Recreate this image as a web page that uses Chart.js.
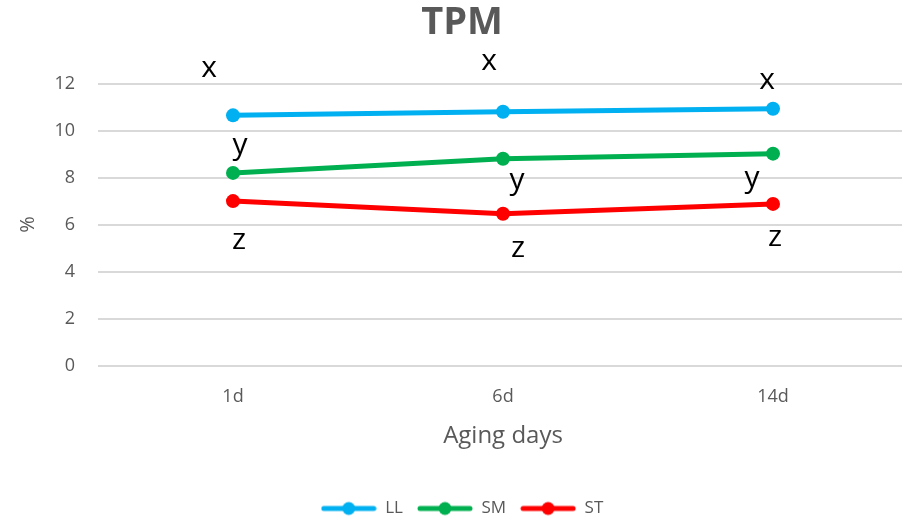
<!DOCTYPE html>
<html>
<head>
<meta charset="utf-8">
<script src="https://cdn.jsdelivr.net/npm/chart.js@4.4.1/dist/chart.umd.min.js"></script>
<style>
  html, body { margin: 0; padding: 0; background: #fff; overflow: hidden; }
  #wrap { width: 908px; height: 523px; }
</style>
</head>
<body>
<div id="wrap"><canvas id="graph"></canvas></div>
<script>
// chart data
const days = ["1d", "6d", "14d"];
const seriesNames = ["LL", "SM", "ST"];
const llValues = [10.65, 10.8, 10.93];
const smValues = [8.2, 8.8, 9.02];
const stValues = [7.0, 6.46, 6.88];
const llLetters = ["x", "x", "x"];
const smLetters = ["y", "y", "y"];
const stLetters = ["z", "z", "z"];

// colours and label placement (pixel nudges, like dragged Excel labels)
const colors = ["#00B0F0", "#00B050", "#FF0000"];
const letterNudges = [
  [[-24, -47], [-14, -50], [-6, -28]],
  [[7, -27], [14, 22], [-21, 25]],
  [[6, 39], [15, 35], [2, 34]]
];

const FONT = "'Open Sans', 'Noto Sans', sans-serif";
const GREY = "#595959";

// little line-with-dot marker for the legend
function legendMarker(color) {
  const c = document.createElement("canvas");
  c.width = 56;
  c.height = 16;
  const g = c.getContext("2d");
  g.strokeStyle = color;
  g.lineWidth = 5;
  g.lineCap = "round";
  g.beginPath();
  g.moveTo(3, 8);
  g.lineTo(53, 8);
  g.stroke();
  g.fillStyle = color;
  g.beginPath();
  g.arc(28, 8, 6.5, 0, Math.PI * 2);
  g.fill();
  return c;
}

const letterPlugin = {
  id: "letters",
  afterLayout(chart) {
    // nudge the legend row a few px lower, closer to the bottom edge
    if (chart.legend) {
      chart.legend.top += 4;
      chart.legend.bottom += 4;
    }
  },
  afterDatasetsDraw(chart) {
    const ctx = chart.ctx;
    ctx.save();
    ctx.font = "30px " + FONT;
    ctx.fillStyle = "#000";
    ctx.textAlign = "center";
    ctx.textBaseline = "middle";
    chart.data.datasets.forEach((ds, i) => {
      const meta = chart.getDatasetMeta(i);
      meta.data.forEach((pt, j) => {
        const n = letterNudges[i][j];
        ctx.fillText(ds.letters[j], pt.x + n[0], pt.y + n[1]);
      });
    });
    ctx.restore();
  }
};

function makeDataset(label, values, letters, color) {
  return {
    label: label,
    data: values,
    letters: letters,
    borderColor: color,
    backgroundColor: color,
    borderWidth: 5,
    pointRadius: 7,
    pointHoverRadius: 7,
    pointBorderWidth: 0,
    tension: 0,
    pointStyle: "circle"
  };
}

const ctx = document.getElementById("graph").getContext("2d");
const chart = new Chart(ctx, {
  type: "line",
  data: {
    labels: days,
    datasets: [
      makeDataset(seriesNames[0], llValues, llLetters, colors[0]),
      makeDataset(seriesNames[1], smValues, smLetters, colors[1]),
      makeDataset(seriesNames[2], stValues, stLetters, colors[2])
    ]
  },
  plugins: [letterPlugin],
  options: {
    responsive: true,
    maintainAspectRatio: false,
    animation: false,
    layout: { autoPadding: false, padding: { left: 16, right: 0, top: 0, bottom: 0 } },
    plugins: {
      title: {
        display: true,
        text: "TPM",
        color: GREY,
        font: { family: FONT, size: 38, weight: "bold" },
        padding: { top: 0, bottom: 38 }
      },
      legend: {
        position: "bottom",
        labels: {
          color: GREY,
          font: { family: FONT, size: 17 },
          usePointStyle: true,
          pointStyleWidth: 56,
          boxHeight: 16,
          padding: 14
        }
      },
      tooltip: { enabled: false }
    },
    scales: {
      x: {
        offset: true,
        grid: { display: false, drawTicks: false },
        border: { display: false },
        ticks: {
          color: GREY,
          font: { family: FONT, size: 18 },
          padding: 20
        },
        title: {
          display: true,
          text: "Aging days",
          color: GREY,
          font: { family: FONT, size: 24 },
          padding: { top: -5, bottom: 31 }
        }
      },
      y: {
        min: 0,
        max: 12,
        afterFit(scale) { scale.width = 82; },
        ticks: {
          stepSize: 2,
          color: GREY,
          font: { family: FONT, size: 18 },
          padding: 23
        },
        grid: { color: "#D9D9D9", lineWidth: 2, drawTicks: false },
        border: { display: false },
        title: {
          display: true,
          text: "%",
          color: GREY,
          font: { family: FONT, size: 20 },
          padding: { top: 0, bottom: 12 }
        }
      }
    }
  }
});

// legend entries: line with a dot, drawn as an image marker
chart.options.plugins.legend.labels.generateLabels = function(c) {
  return c.data.datasets.map((ds, i) => ({
    text: ds.label,
    pointStyle: legendMarker(colors[i]),
    fillStyle: colors[i],
    strokeStyle: colors[i],
    lineWidth: 0,
    fontColor: GREY,
    hidden: false,
    datasetIndex: i
  }));
};
chart.update();
</script>
</body>
</html>
